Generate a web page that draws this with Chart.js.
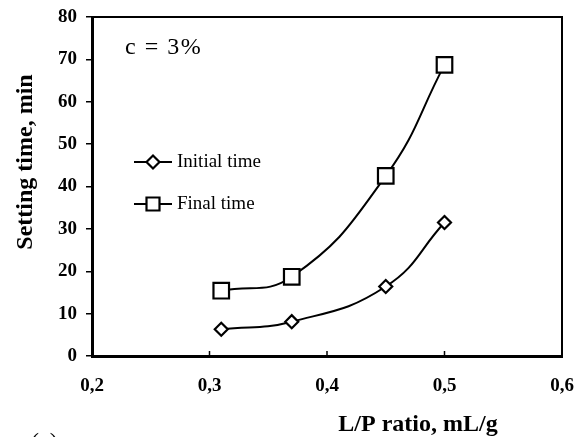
<!DOCTYPE html>
<html>
<head>
<meta charset="utf-8">
<script src="https://cdn.jsdelivr.net/npm/chart.js@4.4.0/dist/chart.umd.min.js"></script>
<style>
  html, body { margin: 0; padding: 0; background: #fff; }
  #wrap { width: 582px; height: 437px; position: relative; }
</style>
</head>
<body>
<div id="wrap"><canvas id="graph-setting"></canvas></div>
<script>
const lpRatio = [0.31, 0.37, 0.45, 0.5];
const initialTime = [6.3, 8.1, 16.4, 31.5];
const finalTime = [15.4, 18.7, 42.5, 68.7];
const xTicks = [0.2, 0.3, 0.4, 0.5, 0.6];
const seriesNames = ["Initial time", "Final time"];

const serif = "'Liberation Serif', 'Times New Roman', serif";

const toPoints = (ys) => lpRatio.map((x, i) => ({ x: x, y: ys[i] }));

// frame, inward x ticks, titles, legend
const decorations = {
  id: "decorations",
  afterDraw(chart) {
    const { ctx, chartArea: a, scales } = chart;
    ctx.save();
    ctx.strokeStyle = "#000";
    ctx.lineWidth = 2;
    ctx.beginPath();
    ctx.moveTo(a.left, a.top);
    ctx.lineTo(a.right, a.top);
    ctx.lineTo(a.right, a.bottom);
    ctx.stroke();

    ctx.lineWidth = 1.5;
    xTicks.slice(1, -1).forEach((v) => {
      const px = scales.x.getPixelForValue(v);
      ctx.beginPath();
      ctx.moveTo(px, a.bottom);
      ctx.lineTo(px, a.bottom - 5);
      ctx.stroke();
    });

    ctx.fillStyle = "#000";
    ctx.font = "24px " + serif;
    ctx.textBaseline = "alphabetic";
    ctx.textAlign = "left";
    ctx.letterSpacing = "1.5px";
    ctx.fillText("c = 3%", 125, 54);
    ctx.letterSpacing = "0px";

    ctx.font = "bold 24px " + serif;
    ctx.textAlign = "center";
    ctx.fillText("L/P ratio, mL/g", 418, 431);

    ctx.save();
    ctx.translate(26, 162);
    ctx.rotate(-Math.PI / 2);
    ctx.textBaseline = "middle";
    ctx.font = "bold 24px " + serif;
    ctx.fillText("Setting time, min", 0, 0);
    ctx.restore();

    ctx.font = "24px " + serif;
    ctx.textAlign = "left";
    ctx.textBaseline = "top";
    ctx.fillText("(a)", 31, 431);

    // legend
    const rows = [162, 204];
    chart.data.datasets.forEach((ds, i) => {
      const y = rows[i];
      ctx.lineWidth = 2;
      ctx.beginPath();
      ctx.moveTo(134, y);
      ctx.lineTo(172, y);
      ctx.stroke();
      ctx.lineWidth = 2.2;
      ctx.fillStyle = "#fff";
      ctx.beginPath();
      if (ds.pointStyle === "rectRot") {
        ctx.moveTo(153 - 6.5, y);
        ctx.lineTo(153, y - 6.5);
        ctx.lineTo(153 + 6.5, y);
        ctx.lineTo(153, y + 6.5);
        ctx.closePath();
      } else {
        ctx.rect(153 - 6.5, y - 6.5, 13, 13);
      }
      ctx.fill();
      ctx.stroke();
      ctx.fillStyle = "#000";
      ctx.font = "19px " + serif;
      ctx.textAlign = "left";
      ctx.textBaseline = "middle";
      ctx.fillText(ds.label, 177, y);
    });
    ctx.restore();
  },
};

new Chart(document.getElementById("graph-setting"), {
  type: "line",
  data: {
    datasets: [
      {
        label: seriesNames[0],
        data: toPoints(initialTime),
        borderColor: "#000",
        borderWidth: 2,
        tension: 0.45,
        pointStyle: "rectRot",
        pointRadius: 6.5,
        pointBorderWidth: 2.2,
        pointBackgroundColor: "#fff",
        pointBorderColor: "#000",
      },
      {
        label: seriesNames[1],
        data: toPoints(finalTime),
        borderColor: "#000",
        borderWidth: 2,
        tension: 0.45,
        pointStyle: "rect",
        pointRadius: 11,
        pointBorderWidth: 2.2,
        pointBackgroundColor: "#fff",
        pointBorderColor: "#000",
      },
    ],
  },
  options: {
    responsive: true,
    maintainAspectRatio: false,
    animation: false,
    layout: { padding: { top: 17, right: 20, left: 0, bottom: 0 } },
    plugins: {
      legend: { display: false },
      tooltip: { enabled: false },
    },
    scales: {
      x: {
        type: "linear",
        min: 0.2,
        max: 0.6,
        afterFit: (s) => { s.height = 81; s.paddingLeft = 0; s.paddingRight = 0; },
        afterBuildTicks: (s) => { s.ticks = xTicks.map((v) => ({ value: v })); },
        grid: { display: false, drawTicks: false },
        border: { display: true, color: "#000", width: 3 },
        ticks: {
          color: "#000",
          padding: 19,
          maxRotation: 0,
          font: { family: serif, size: 19, weight: "bold" },
          callback: (v) => v.toFixed(1).replace(".", ","),
        },
      },
      y: {
        min: 0,
        max: 80,
        afterFit: (s) => { s.width = 92; s.paddingTop = 0; s.paddingBottom = 0; },
        grid: {
          display: true,
          drawOnChartArea: false,
          drawTicks: true,
          tickLength: 6,
          color: "#000",
          lineWidth: 1.5,
        },
        border: { display: true, color: "#000", width: 3 },
        ticks: {
          stepSize: 10,
          color: "#000",
          padding: 9,
          font: { family: serif, size: 19, weight: "bold" },
        },
      },
    },
  },
  plugins: [decorations],
});
</script>
</body>
</html>
